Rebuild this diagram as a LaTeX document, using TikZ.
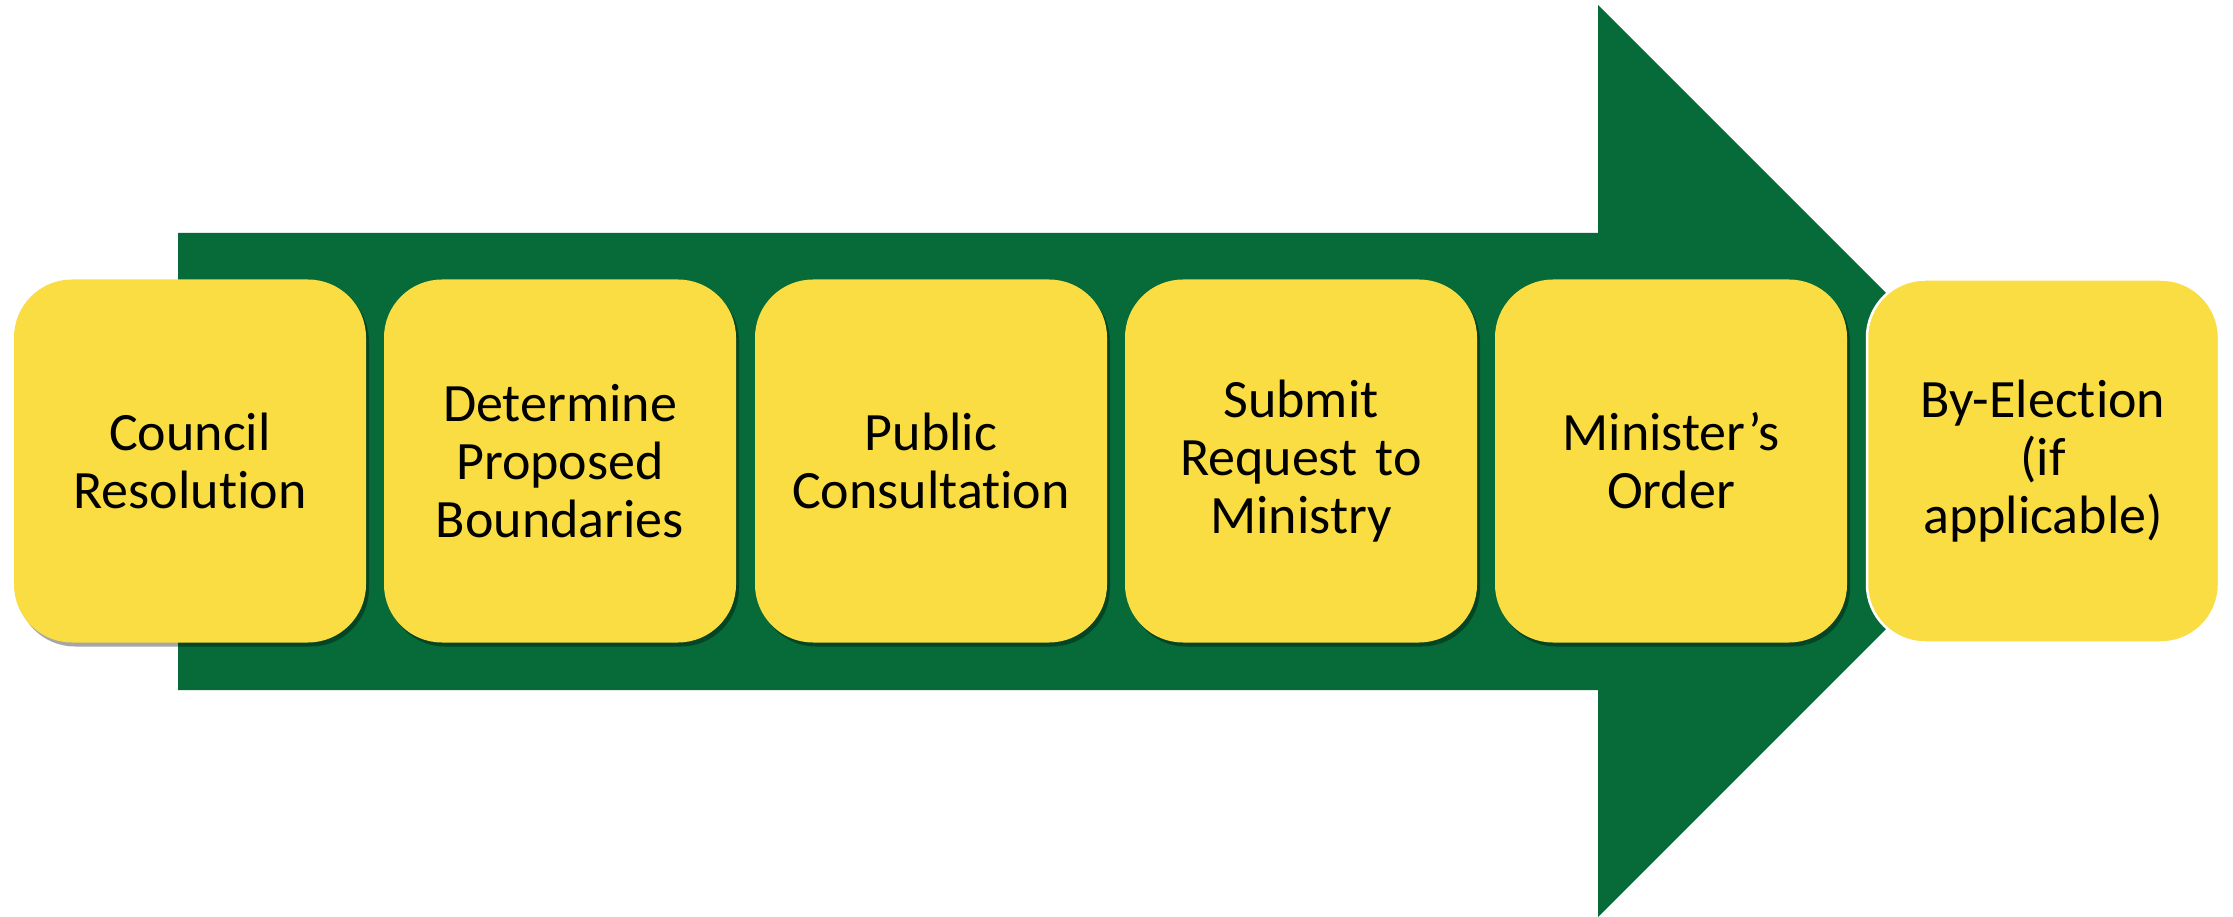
\documentclass[tikz,border=0pt]{standalone}
\usepackage{fontspec}
\setmainfont{Carlito}[RawFeature={-liga;-clig;-calt;-dlig}]
\usetikzlibrary{shadows}
\definecolor{arrowgreen}{HTML}{066B38}
\definecolor{boxyellow}{HTML}{FADD42}
\newcommand{\nl}{\kern0pt }
\tikzset{
  stepbox/.style={fill=boxyellow, draw=none, rounded corners=58pt,
    minimum width=352pt, minimum height=363pt, inner sep=0pt,
    text width=330pt, align=center, text=black,
    font=\fontsize{54pt}{58pt}\selectfont},
  shadowed/.style={drop shadow={shadow xshift=3pt, shadow yshift=-4pt, opacity=0.35, fill=black}},
  lastbox/.style={draw=white, line width=2.5pt}
}
\begin{document}
\begin{tikzpicture}[x=1pt, y=-1pt]
\useasboundingbox (0,0) rectangle (2233,917);
\fill[white] (0,0) rectangle (2233,917);
% big arrow
\fill[arrowgreen] (178,233) -- (1598,233) -- (1598,5) -- (2054,461) -- (1598,917) -- (1598,690) -- (178,690) -- cycle;
% steps
\node[stepbox, shadowed] (s1) at (190,461) {Council\\Resolut\nl ion};
\node[stepbox, shadowed] (s2) at (560,461) {Determine\\Proposed\\Boundaries};
\node[stepbox, shadowed] (s3) at (931,461) {Public\\Consultat\nl ion};
\node[stepbox, shadowed] (s4) at (1301,461) {Submit\\Request\kern0pt\ t\nl o\\Ministry};
\node[stepbox, shadowed] (s5) at (1671,461) {Minister’s\\Order};
\node[stepbox, lastbox] (s6) at (2043,461) {By-Elect\nl ion\\(if\\applicable)};
\end{tikzpicture}
\end{document}
